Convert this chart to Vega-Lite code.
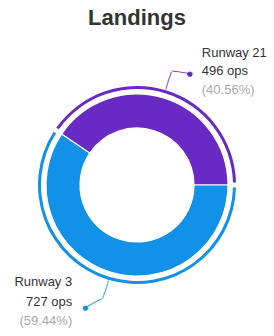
{
  "$schema": "https://vega.github.io/schema/vega-lite/v6.json",
  "width": 274,
  "height": 302,
  "autosize": "none",
  "padding": {"top": 34, "left": 0, "right": 0, "bottom": 0},
  "background": "white",
  "title": {"text": "Landings", "fontSize": 22, "font": "Liberation Sans", "fontWeight": "bold", "color": "#333333", "anchor": "middle", "frame": "group", "baseline": "alphabetic", "offset": -13},
  "config": {"view": {"stroke": null}, "text": {"font": "Liberation Sans", "fontSize": 13}},
  "data": {"values": [
    {"runway": "Runway 21", "ops": 496, "opsLabel": "496 ops", "pctLabel": "(40.56%)"},
    {"runway": "Runway 3", "ops": 727, "opsLabel": "727 ops", "pctLabel": "(59.44%)"}
  ]},
  "encoding": {
    "theta": {"field": "ops", "type": "quantitative", "stack": true, "scale": {"range": [1.5707963, 7.8539816]}},
    "order": {"field": "runway", "sort": "descending"}
  },
  "layer": [
    {"mark": {"type": "arc", "innerRadius": 57, "outerRadius": 91, "stroke": "white", "strokeWidth": 1.2},
     "encoding": {"color": {"field": "runway", "type": "nominal", "scale": {"domain": ["Runway 21", "Runway 3"], "range": ["#6929c4", "#1192e8"]}, "legend": null}}},
    {"mark": {"type": "arc", "innerRadius": 96, "outerRadius": 99, "padAngle": 0.035},
     "encoding": {"color": {"field": "runway", "type": "nominal", "legend": null}}},
    {"mark": {"type": "text", "radius": 100, "align": "left", "baseline": "middle", "font": "DejaVu Sans", "fontSize": 10},
     "encoding": {"color": {"field": "runway", "type": "nominal", "legend": null},
                  "angle": {"condition": {"test": "datum.runway === 'Runway 21'", "value": 287}, "value": 107},
                  "text": {"value": "───"}}},
    {"mark": {"type": "text", "radius": 119, "align": "left", "baseline": "middle", "angle": 9, "font": "DejaVu Sans", "fontSize": 10},
     "encoding": {"color": {"field": "runway", "type": "nominal", "legend": null},
                  "text": {"condition": {"test": "datum.runway === 'Runway 21'", "value": "───"}, "value": ""}}},
    {"mark": {"type": "text", "radius": 119, "align": "center", "baseline": "middle", "dx": 18, "dy": 3, "font": "DejaVu Sans", "fontSize": 7},
     "encoding": {"color": {"field": "runway", "type": "nominal", "legend": null},
                  "text": {"condition": {"test": "datum.runway === 'Runway 21'", "value": "●"}, "value": ""}}},
    {"mark": {"type": "text", "radius": 119, "align": "right", "baseline": "middle", "angle": -28, "font": "DejaVu Sans", "fontSize": 10},
     "encoding": {"color": {"field": "runway", "type": "nominal", "legend": null},
                  "text": {"condition": {"test": "datum.runway === 'Runway 3'", "value": "───"}, "value": ""}}},
    {"mark": {"type": "text", "radius": 119, "align": "center", "baseline": "middle", "dx": -17, "dy": 9, "font": "DejaVu Sans", "fontSize": 7},
     "encoding": {"color": {"field": "runway", "type": "nominal", "legend": null},
                  "text": {"condition": {"test": "datum.runway === 'Runway 3'", "value": "●"}, "value": ""}}},
    {"mark": {"type": "text", "radius": 119, "align": "left", "baseline": "middle", "dx": 30, "dy": -18, "color": "#333333"},
     "encoding": {"detail": {"field": "runway"},
                  "text": {"condition": {"test": "datum.runway === 'Runway 21'", "field": "runway"}, "value": ""}}},
    {"mark": {"type": "text", "radius": 119, "align": "left", "baseline": "middle", "dx": 30, "dy": 0, "color": "#333333"},
     "encoding": {"detail": {"field": "runway"},
                  "text": {"condition": {"test": "datum.runway === 'Runway 21'", "field": "opsLabel"}, "value": ""}}},
    {"mark": {"type": "text", "radius": 119, "align": "left", "baseline": "middle", "dx": 30, "dy": 19, "color": "#aaaaaa"},
     "encoding": {"detail": {"field": "runway"},
                  "text": {"condition": {"test": "datum.runway === 'Runway 21'", "field": "pctLabel"}, "value": ""}}},
    {"mark": {"type": "text", "radius": 119, "align": "right", "baseline": "middle", "dx": -30, "dy": -17, "color": "#333333"},
     "encoding": {"detail": {"field": "runway"},
                  "text": {"condition": {"test": "datum.runway === 'Runway 3'", "field": "runway"}, "value": ""}}},
    {"mark": {"type": "text", "radius": 119, "align": "right", "baseline": "middle", "dx": -30, "dy": 3, "color": "#333333"},
     "encoding": {"detail": {"field": "runway"},
                  "text": {"condition": {"test": "datum.runway === 'Runway 3'", "field": "opsLabel"}, "value": ""}}},
    {"mark": {"type": "text", "radius": 119, "align": "right", "baseline": "middle", "dx": -30, "dy": 22, "color": "#aaaaaa"},
     "encoding": {"detail": {"field": "runway"},
                  "text": {"condition": {"test": "datum.runway === 'Runway 3'", "field": "pctLabel"}, "value": ""}}}
  ]
}
